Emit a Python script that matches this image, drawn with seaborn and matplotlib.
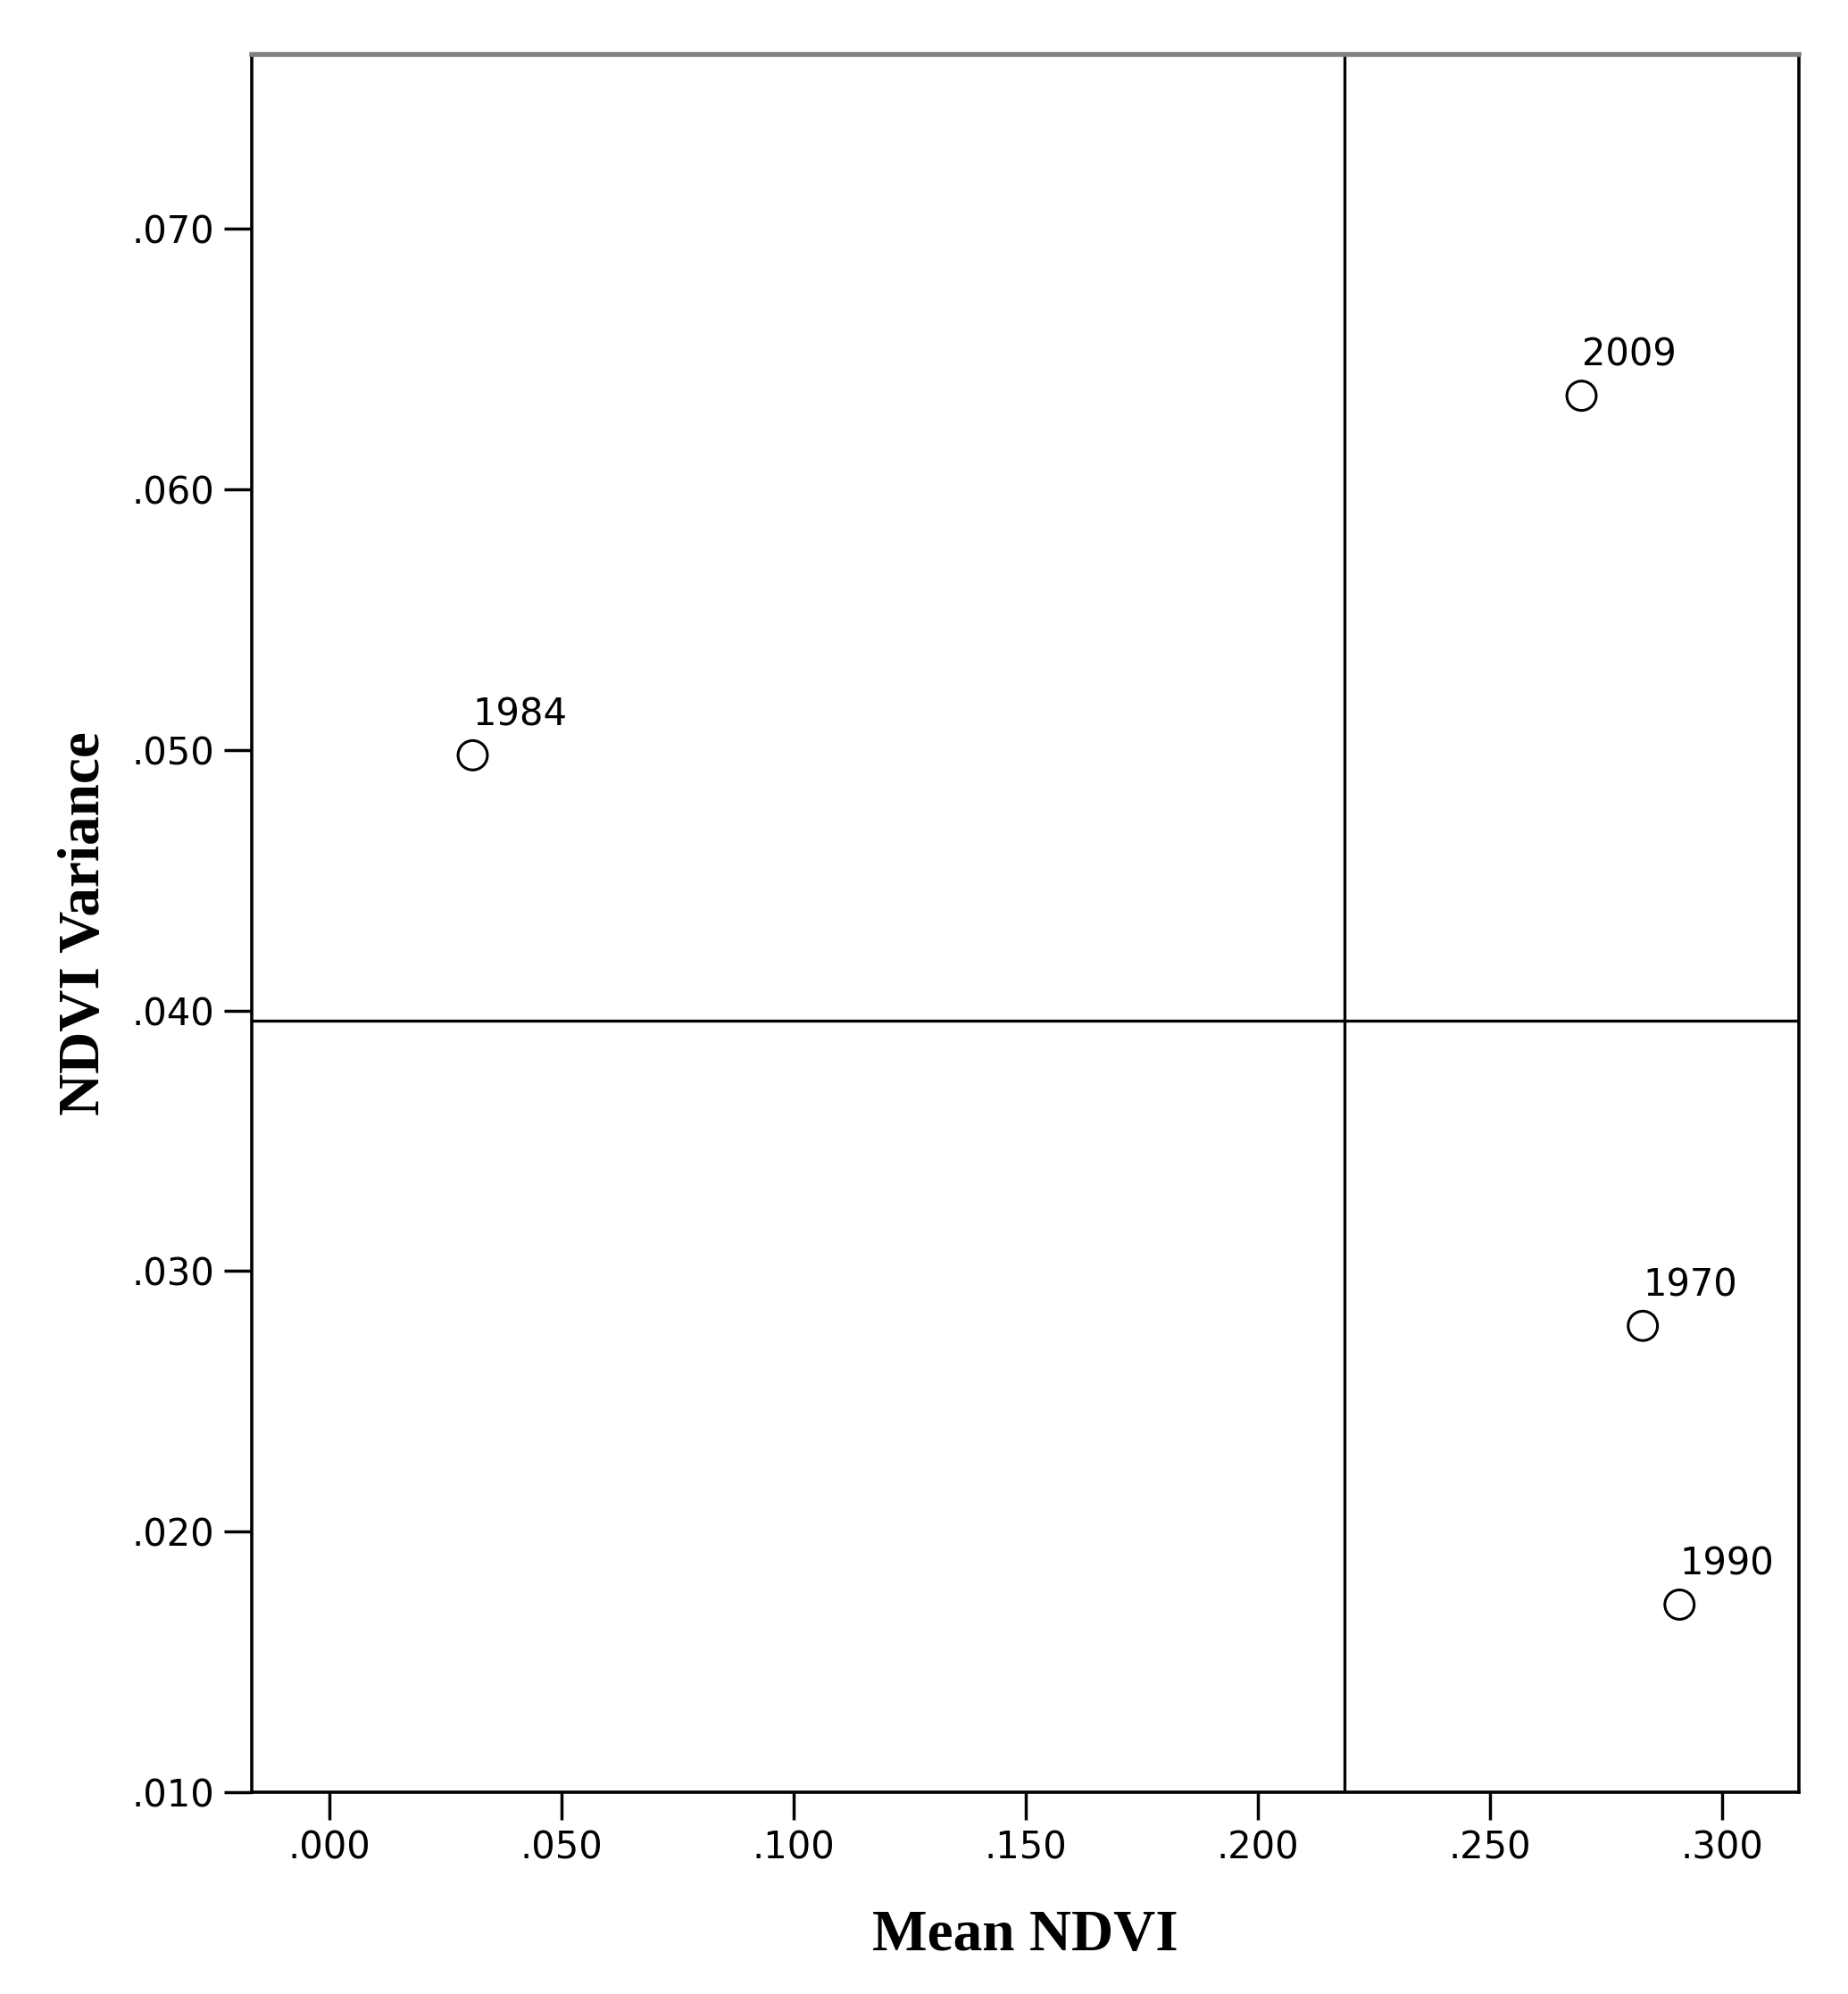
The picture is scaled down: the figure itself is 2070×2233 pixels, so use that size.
import numpy as np
import pandas as pd
import matplotlib
matplotlib.use('Agg')
import matplotlib.pyplot as plt
import seaborn as sns
from matplotlib.ticker import FuncFormatter

# data
years = ['1984', '2009', '1970', '1990']
mean_ndvi = [0.0309, 0.2697, 0.2829, 0.2908]
ndvi_var = [0.0498, 0.0636, 0.0279, 0.0172]

x_ticks = [0.0, 0.05, 0.10, 0.15, 0.20, 0.25, 0.30]
y_ticks = [0.01, 0.02, 0.03, 0.04, 0.05, 0.06, 0.07]

df = pd.DataFrame({'year': years, 'mean': mean_ndvi, 'var': ndvi_var})

sns.set_style('white')
plt.rcParams['font.family'] = ['DejaVu Sans']
plt.rcParams['text.color'] = 'black'
plt.rcParams['axes.labelcolor'] = 'black'
plt.rcParams['xtick.color'] = 'black'
plt.rcParams['ytick.color'] = 'black'

fig = plt.figure(figsize=(20.7, 22.33), dpi=100)
ax = fig.add_axes([0.1362, 0.1012, 0.8372, 0.8715])

sns.scatterplot(data=df, x='mean', y='var', ax=ax, marker='o', s=560,
                facecolor='none', edgecolor='black', linewidth=2.2, zorder=3)

# reference lines at the means
ax.axvline(df['mean'].mean(), color='black', lw=2.4, zorder=2)
ax.axhline(df['var'].mean(), color='black', lw=2.4, zorder=2)

for _, r in df.iterrows():
    ax.annotate(r['year'], (r['mean'], r['var']), xytext=(0, 24),
                textcoords='offset points', ha='left', va='baseline',
                fontsize=30, family='DejaVu Sans', color='black')

ax.set_xlim(-0.0167, 0.3165)
ax.set_ylim(0.010, 0.0767)
ax.set_xticks(x_ticks)
ax.set_yticks(y_ticks)
fmt = FuncFormatter(lambda v, p: f'{v:.3f}'.lstrip('0'))
ax.xaxis.set_major_formatter(fmt)
ax.yaxis.set_major_formatter(fmt)
ax.tick_params(axis='both', direction='out', length=22, width=2.5,
               labelsize=30, color='black', labelcolor='black', pad=8,
               bottom=True, left=True)

for side in ['left', 'right', 'bottom']:
    ax.spines[side].set_color('black')
    ax.spines[side].set_linewidth(2.6)
ax.spines['top'].set_color('#808080')
ax.spines['top'].set_linewidth(4)

ax.set_xlabel('Mean NDVI', fontsize=47, fontweight='bold',
              family='Liberation Serif', labelpad=34, color='black')
ax.set_ylabel('NDVI Variance', fontsize=47, fontweight='bold',
              family='Liberation Serif', labelpad=16, color='black')

fig.savefig('out.png', dpi=100, facecolor='white')
